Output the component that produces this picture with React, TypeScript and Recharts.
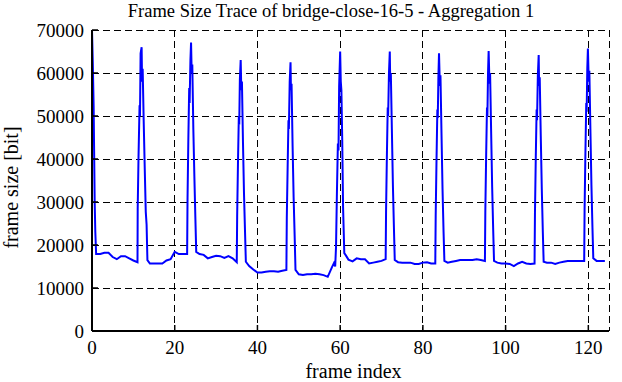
import { LineChart, Line, XAxis, YAxis, CartesianGrid } from 'recharts';

const frameIndex = [
  0, 0.2, 0.4, 0.5, 0.65, 0.8, 1, 2, 3, 4, 5, 6, 7, 8, 9, 10, 11,
  11.05, 11.25, 11.5, 11.6, 11.75, 12, 12.1, 12.25, 12.5, 12.75, 13, 13.2, 13.4,
  14, 15, 16, 17, 18, 19, 20, 21, 22, 23,
  23.1, 23.3, 23.5, 23.6, 23.8, 23.95, 24.1, 24.25, 24.5, 24.75, 25, 25.2,
  26, 27, 28, 29, 30, 31, 32, 33, 34, 35,
  35.1, 35.3, 35.5, 35.6, 35.75, 35.95, 36.1, 36.25, 36.5, 36.75, 37, 37.2,
  38, 39, 40, 41, 42, 43, 44, 45, 46, 47,
  47.1, 47.3, 47.5, 47.6, 47.8, 48, 48.1, 48.25, 48.5, 48.75, 49, 49.2,
  50, 51, 52, 53, 54, 55, 56, 57, 58, 58.5, 58.8,
  59, 59.2, 59.45, 59.6, 59.75, 60, 60.15, 60.3, 60.5, 60.7, 61,
  61.3, 62, 63, 64, 65, 66, 67, 68, 69, 70, 71,
  71.1, 71.3, 71.5, 71.6, 71.8, 72, 72.1, 72.25, 72.5, 72.75, 73, 73.2,
  74, 75, 76, 77, 78, 79, 80, 81, 82, 83,
  83.1, 83.3, 83.5, 83.6, 83.75, 83.9, 84.1, 84.25, 84.5, 84.75, 85, 85.2,
  86, 87, 88, 89, 90, 91, 92, 93, 94, 95,
  95.1, 95.3, 95.5, 95.6, 95.75, 95.9, 96.1, 96.25, 96.5, 96.75, 97, 97.2,
  98, 99, 100, 101, 102, 103, 104, 105, 106, 107,
  107.1, 107.3, 107.5, 107.6, 107.8, 108, 108.1, 108.25, 108.5, 108.75, 109, 109.2,
  110, 111, 112, 113, 114, 115, 116, 117, 118, 119,
  119.1, 119.3, 119.5, 119.6, 119.75, 119.9, 120.1, 120.25, 120.5, 120.75, 121, 121.2,
  122, 123, 124,
];

const frameSize = [
  70000, 62000, 52000, 43000, 30000, 23000, 17900, 17900, 18200, 18200, 17200, 16700, 17400, 17400, 16900, 16400, 16000,
  28600, 40500, 52500, 50000, 64600, 66000, 58000, 61000, 48700, 37900, 27700, 24700, 16500,
  15700, 15700, 15700, 15700, 16400, 16700, 18400, 17900, 17900, 17900,
  31000, 45000, 56500, 53000, 63000, 67100, 60000, 62000, 47000, 36000, 26000, 18400,
  17900, 17700, 16900, 17200, 17500, 17400, 17000, 17400, 16900, 16000,
  27000, 39500, 50000, 48000, 58500, 63000, 56000, 58000, 44000, 32000, 23000, 16100,
  15100, 14300, 13600, 13600, 13800, 13900, 13900, 13800, 14000, 14200,
  26500, 38000, 49000, 47000, 58000, 62500, 56000, 57500, 43000, 31000, 22000, 14200,
  13200, 13000, 13200, 13200, 13300, 13200, 13000, 12600, 14800, 15800, 15000,
  19600, 31200, 43600, 42000, 56800, 65000, 58000, 56000, 44400, 28900, 18100,
  17700, 16600, 16200, 16900, 16700, 16700, 15700, 15900, 16100, 16300, 16700,
  28000, 41000, 52000, 50000, 60000, 65000, 58000, 60000, 47000, 34000, 24000, 16500,
  16000, 15900, 15900, 15900, 15600, 15600, 15900, 16000, 15700, 15700,
  27000, 40000, 51500, 49500, 59000, 64600, 57000, 59500, 46000, 33000, 23000, 16300,
  15900, 16100, 16300, 16500, 16500, 16500, 16500, 16700, 16500, 16300,
  28000, 41000, 52000, 50000, 60000, 65100, 57500, 60000, 46500, 33500, 23500, 16300,
  15900, 15700, 15700, 15600, 15100, 15700, 16100, 15700, 15600, 15700,
  27500, 40500, 51500, 49000, 59500, 64200, 57000, 59000, 45500, 33000, 23000, 16100,
  15900, 15900, 15600, 15900, 16100, 16300, 16300, 16300, 16300, 16300,
  28500, 41500, 53000, 51000, 61000, 65700, 58000, 60500, 47000, 34000, 24000, 16900,
  16300, 16300, 16300,
];

const xTicks = [0, 20, 40, 60, 80, 100, 120];
const yTicks = [0, 10000, 20000, 30000, 40000, 50000, 60000, 70000];

const data = frameIndex.map((x, i) => ({ x, size: frameSize[i] }));

const font = '"Liberation Serif", "DejaVu Serif", serif';
const labelStyle = { fontSize: 20, fill: '#000', fontFamily: font, textAnchor: 'middle' as const };

function XTick(props: any) {
  const { x, y, payload } = props;
  return (
    <text x={x} y={y} dy="0.71em" textAnchor="middle" fill="#000" fontSize={19} fontFamily={font}>
      {payload.value}
    </text>
  );
}

function YTick(props: any) {
  const { x, y, payload } = props;
  return (
    <text x={x} y={y} dy="0.355em" textAnchor="end" fill="#000" fontSize={19} fontFamily={font}>
      {payload.value}
    </text>
  );
}

export default function App() {
  return (
    <div style={{ position: 'absolute', left: 0, top: 0, width: 622, height: 382, background: '#fff', fontFamily: font }}>
      <div style={{ position: 'absolute', left: 62, width: 538, top: 0, textAlign: 'center', fontSize: 18.5, lineHeight: '22px' }}>
        Frame Size Trace of bridge-close-16-5 - Aggregation 1
      </div>
      <LineChart width={622} height={382} data={data} margin={{ top: 30, right: 13, bottom: 0, left: 0 }}>
        <CartesianGrid stroke="#000" strokeDasharray="7 4" strokeWidth={1} shapeRendering="crispEdges" />
        <XAxis
          dataKey="x" type="number" domain={[0, 125]} ticks={xTicks} height={51}
          axisLine={{ stroke: '#000', strokeWidth: 2 }} tickLine={{ stroke: '#000', strokeWidth: 1.5 }}
          tickSize={-6} tickMargin={16} tick={<XTick />}
          label={{ value: 'frame index', position: 'insideBottom', offset: 4, dx: 3, style: labelStyle }}
        />
        <XAxis
          xAxisId="top" orientation="top" dataKey="x" type="number" domain={[0, 125]} ticks={xTicks} height={0}
          axisLine={{ stroke: '#000', strokeWidth: 2 }} tickLine={{ stroke: '#000', strokeWidth: 1.5 }}
          tickSize={-6} tickFormatter={() => ''}
        />
        <YAxis
          type="number" domain={[0, 70000]} ticks={yTicks} width={92}
          axisLine={{ stroke: '#000', strokeWidth: 2 }} tickLine={{ stroke: '#000', strokeWidth: 1.5 }}
          tickSize={-6} tickMargin={14} tick={<YTick />}
          label={{ value: 'frame size [bit]', angle: -90, position: 'insideLeft', offset: 11, dy: 7, style: labelStyle }}
        />
        <YAxis
          yAxisId="right" orientation="right" type="number" domain={[0, 70000]} ticks={yTicks} width={0}
          axisLine={{ stroke: '#000', strokeWidth: 2 }} tickLine={{ stroke: '#000', strokeWidth: 1.5 }}
          tickSize={-6} tickFormatter={() => ''}
        />
        <Line type="linear" dataKey="size" stroke="#0000ff" strokeWidth={2} dot={false} isAnimationActive={false} />
      </LineChart>
    </div>
  );
}
